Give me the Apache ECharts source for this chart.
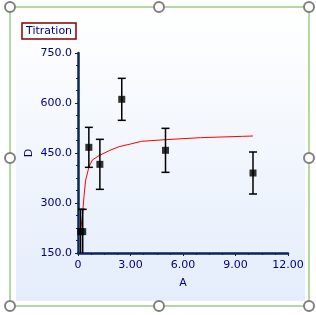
<!DOCTYPE html>
<html>
<head>
<meta charset="utf-8">
<script src="https://cdn.jsdelivr.net/npm/echarts@6/dist/echarts.min.js"></script>
<style>html,body{margin:0;padding:0;background:#fff;}#c{width:316px;height:315px;}</style>
</head>
<body>
<div id="c"></div>
<script>
// Data
var titleText = "Titration";
var xName = "A";
var yName = "D";
var pointX = [0.15, 0.27, 0.62, 1.25, 2.5, 5.0, 10.0];
var pointY = [214, 214, 467, 416, 611, 458, 390];
var pointErr = [67, 67, 60, 75, 63, 66, 63];
var curveX = [0.15, 0.25, 0.34, 0.44, 0.63, 0.82, 1.2, 1.78, 2.35, 3.0, 3.63, 5.0, 7.0, 9.4, 10.0];
var curveY = [219, 259, 319, 369, 409, 429, 442, 457, 469, 477, 485, 490, 496, 500, 501];
var xMin = 0, xMax = 12, xStep = 3;
var yMin = 150, yMax = 750, yStep = 150;

var navy = '#000080';
var axisColor = '#082658';
var font = 'DejaVu Sans';

var pts = pointX.map(function (x, i) { return [x, pointY[i], pointErr[i]]; });
var curve = curveX.map(function (x, i) { return [x, curveY[i]]; });

var chart = echarts.init(document.getElementById('c'), null, {renderer: 'canvas'});

var handles = [[10,7],[159,7],[309,7],[10,158],[309,158],[10,306],[159,306],[309,306]];
var graphics = [
  {type:'rect', z:-10, shape:{x:16,y:8,width:289,height:293},
   style:{fill:new echarts.graphic.LinearGradient(0,0,0,1,[{offset:0,color:'#ffffff'},{offset:1,color:'#e4edfb'}])}},
  {type:'rect', z:-9, shape:{x:10,y:7,width:299,height:299}, style:{fill:'none', stroke:'#b2d8a6', lineWidth:2}}
];
handles.forEach(function (h) {
  graphics.push({type:'circle', z:100, shape:{cx:h[0], cy:h[1], r:5}, style:{fill:'#ffffff', stroke:'#808080', lineWidth:2}});
});

chart.setOption({
  animation: false,
  backgroundColor: '#ffffff',
  graphic: graphics,
  title: {
    text: titleText, left: 22, top: 23,
    padding: [2, 4, 2, 4],
    borderColor: '#800000', borderWidth: 1.5,
    textStyle: {color: navy, fontSize: 11, fontWeight: 'normal', fontFamily: font, lineHeight: 12}
  },
  grid: {left: 78, right: 28, top: 53, bottom: 62, containLabel: false},
  xAxis: {
    type: 'value', min: xMin, max: xMax, interval: xStep,
    name: xName, nameLocation: 'middle', nameGap: 25, nameMoveOverlap: false,
    nameTextStyle: {color: navy, fontSize: 11, fontFamily: font},
    axisLine: {show: true, onZero: false, lineStyle: {color: axisColor, width: 2.5}},
    axisTick: {show: true, inside: false, length: 3, lineStyle: {color: axisColor, width: 1}},
    minorTick: {show: true, splitNumber: 4, length: 2, lineStyle: {color: axisColor}},
    splitLine: {show: false},
    axisLabel: {color: navy, fontSize: 11, fontFamily: font, margin: 7,
      formatter: function (v) { return v === 0 ? '0' : v.toFixed(2); }}
  },
  yAxis: {
    type: 'value', min: yMin, max: yMax, interval: yStep,
    name: yName, nameLocation: 'middle', nameGap: 43, nameRotate: 90, nameMoveOverlap: false,
    nameTextStyle: {color: navy, fontSize: 11, fontFamily: font},
    axisLine: {show: true, onZero: false, lineStyle: {color: axisColor, width: 2.5}},
    axisTick: {show: true, inside: false, length: 3, lineStyle: {color: axisColor, width: 1}},
    minorTick: {show: true, splitNumber: 4, length: 2, lineStyle: {color: axisColor}},
    splitLine: {show: false},
    axisLabel: {color: navy, fontSize: 11, fontFamily: font, margin: 6,
      formatter: function (v) { return v.toFixed(1); }}
  },
  series: [
    {
      type: 'line', data: curve, showSymbol: false, symbol: 'none',
      lineStyle: {color: '#ff0000', width: 1}, z: 3, clip: true
    },
    {
      type: 'custom', data: pts, z: 4, clip: true,
      renderItem: function (params, api) {
        var x = api.value(0), y = api.value(1), e = api.value(2);
        var top = api.coord([x, y + e]);
        var bot = api.coord([x, y - e]);
        var hw = 4;
        return {
          type: 'group',
          children: [
            {type:'line', shape:{x1:top[0], y1:top[1], x2:bot[0], y2:bot[1]}, style:{stroke:'#000', lineWidth:1.5}},
            {type:'line', shape:{x1:top[0]-hw, y1:top[1], x2:top[0]+hw, y2:top[1]}, style:{stroke:'#000', lineWidth:1.5}},
            {type:'line', shape:{x1:bot[0]-hw, y1:bot[1], x2:bot[0]+hw, y2:bot[1]}, style:{stroke:'#000', lineWidth:1.5}}
          ]
        };
      },
      encode: {x: 0, y: 1}
    },
    {
      type: 'scatter', data: pts.map(function (p) { return [p[0], p[1]]; }),
      symbol: 'rect', symbolSize: 7, itemStyle: {color: '#000000'}, z: 5
    }
  ]
});
</script>
</body>
</html>
